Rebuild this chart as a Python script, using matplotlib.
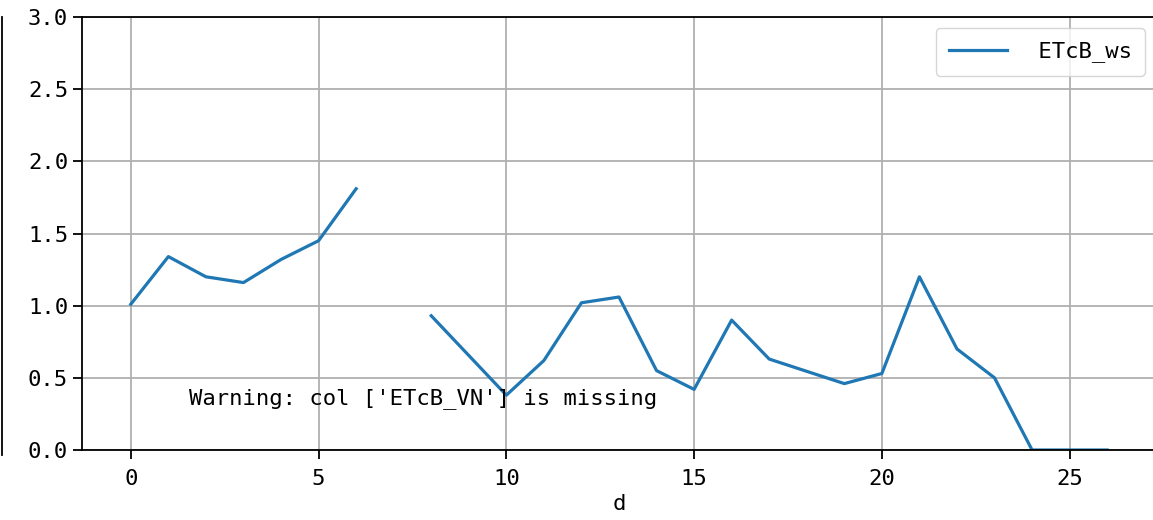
import matplotlib

matplotlib.use("Agg")
import matplotlib.pyplot as plt
import numpy as np
from matplotlib.lines import Line2D

# daily values; NaN = gap in the record
days = list(range(27))
etcb_ws = [1.01, 1.34, 1.20, 1.16, 1.32, 1.45, 1.81, np.nan, 0.93, 0.655,
           0.38, 0.62, 1.02, 1.06, 0.55, 0.42, 0.90, 0.63, 0.545, 0.46,
           0.53, 1.20, 0.70, 0.50, 0.0, 0.0, 0.0]
series_label = " ETcB_ws"
missing_cols = ["ETcB_VN"]

plt.rcParams["font.family"] = ["DejaVu Sans Mono", "Noto Sans CJK SC"]
plt.rcParams["font.size"] = 16

fig = plt.figure(figsize=(11.53, 5.2), dpi=100)
ax = fig.add_axes([82 / 1153, 70 / 520, (1156 - 82) / 1153, (450 - 17) / 520])

ax.plot(days, etcb_ws, color="#1f77b4", linewidth=2.3, label=series_label)
ax.set_ylim(0, 3.0)
ax.set_xlabel("d", labelpad=4)
ax.grid(True, color="#b0b0b0", linewidth=1.3)
ax.tick_params(length=6.5, width=1.3)
ax.tick_params(axis="x", pad=7)
for s in ax.spines.values():
    s.set_linewidth(1.3)

ax.text(0.1, 0.105, f"Warning: col {missing_cols} is missing",
        transform=ax.transAxes, fontsize=16)

ax.legend(loc="upper right", handlelength=2.6, borderpad=0.6, framealpha=0.8)

# stray spine from a neighbouring panel at the far left edge
fig.add_artist(Line2D([1.5 / 1153, 1.5 / 1153], [1 - 17 / 520, 1 - 455 / 520],
                      transform=fig.transFigure, color="black", linewidth=1.3))

fig.savefig("out.png", dpi=100)
